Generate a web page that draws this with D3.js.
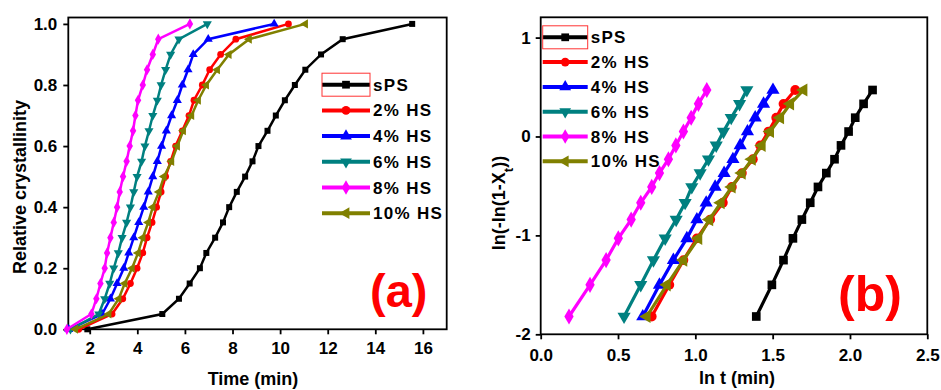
<!doctype html>
<html>
<head>
<meta charset="utf-8">
<script src="https://cdn.jsdelivr.net/npm/d3@7"></script>
<style>
  body { margin: 0; background: #fff; }
  svg text { font-family: "Liberation Sans", Arial, sans-serif; font-weight: bold; }
</style>
</head>
<body>
<div id="chart"></div>
<script>
var seriesNames = ["sPS", "2% HS", "4% HS", "6% HS", "8% HS", "10% HS"];
var seriesColors = ["#000000", "#ff0000", "#0000ff", "#008080", "#ff00ff", "#808000"];

// panel (a): relative crystallinity levels and the time (min) read for each curve
var crystLevels = [0, 0.05, 0.10, 0.15, 0.20, 0.25, 0.30, 0.35, 0.40, 0.45, 0.50,
                   0.55, 0.60, 0.65, 0.70, 0.75, 0.80, 0.85, 0.90, 0.95, 1.00];
var timeSPS  = [1.9, 5.05, 5.75, 6.2, 6.63, 6.9, 7.27, 7.6, 7.86, 8.18, 8.53, 8.84, 9.09, 9.47, 9.82, 10.2, 10.62, 11.06, 11.72, 12.63, 15.55];
var time2HS  = [1.54, 2.94, 3.39, 3.71, 3.99, 4.23, 4.41, 4.62, 4.81, 5.0, 5.19, 5.4, 5.61, 5.89, 6.17, 6.38, 6.73, 7.04, 7.5, 8.14, 10.35];
var time4HS  = [1.12, 2.52, 2.87, 3.15, 3.43, 3.64, 3.85, 4.06, 4.27, 4.46, 4.65, 4.84, 5.02, 5.22, 5.44, 5.68, 5.89, 6.13, 6.35, 6.98, 9.75];
var time6HS  = [1.19, 2.38, 2.63, 2.84, 3.01, 3.2, 3.36, 3.55, 3.71, 3.85, 3.99, 4.18, 4.32, 4.49, 4.65, 4.84, 5.0, 5.19, 5.4, 5.75, 6.94];
var time8HS  = [1.04, 2.07, 2.28, 2.45, 2.63, 2.73, 2.87, 3.01, 3.15, 3.26, 3.4, 3.55, 3.68, 3.82, 3.92, 4.03, 4.23, 4.41, 4.65, 4.88, 6.21];
var time10HS = [1.4, 2.8, 3.22, 3.47, 3.78, 4.03, 4.23, 4.46, 4.65, 4.91, 5.12, 5.44, 5.68, 5.93, 6.28, 6.56, 6.9, 7.36, 7.85, 8.7, 11.06];

// panel (b): ln(-ln(1-Xt)) levels and ln t read for each line
var lnLevels = [-1.82, -1.50, -1.25, -1.03, -0.84, -0.67, -0.51, -0.37, -0.23, -0.09, 0.05, 0.19, 0.33, 0.47];
var lnSPS  = [1.394, 1.495, 1.570, 1.631, 1.689, 1.743, 1.793, 1.847, 1.900, 1.942, 1.991, 2.034, 2.088, 2.146];
var ln2HS  = [0.718, 0.832, 0.923, 1.010, 1.096, 1.178, 1.236, 1.301, 1.372, 1.419, 1.473, 1.523, 1.570, 1.646];
var ln4HS  = [0.660, 0.768, 0.858, 0.945, 1.010, 1.070, 1.128, 1.186, 1.243, 1.290, 1.337, 1.387, 1.441, 1.502];
var ln6HS  = [0.539, 0.647, 0.729, 0.805, 0.876, 0.934, 0.977, 1.031, 1.085, 1.135, 1.182, 1.232, 1.286, 1.333];
var ln8HS  = [0.183, 0.319, 0.423, 0.502, 0.585, 0.647, 0.718, 0.768, 0.826, 0.874, 0.923, 0.973, 1.020, 1.074];
var ln10HS = [0.686, 0.816, 0.923, 1.020, 1.091, 1.165, 1.236, 1.301, 1.366, 1.430, 1.484, 1.549, 1.614, 1.700];

var ticksTime = [2, 4, 6, 8, 10, 12, 14, 16];
var ticksCryst = [0, 0.2, 0.4, 0.6, 0.8, 1.0];
var ticksLnT = [0, 0.5, 1.0, 1.5, 2.0, 2.5];
var ticksLnY = [-2, -1, 0, 1];

var w = 941, h = 390;
var svg = d3.select("#chart").append("svg").attr("width", w).attr("height", h);

var shapes = [d3.symbolSquare, d3.symbolCircle, d3.symbolTriangle, d3.symbolTriangle, d3.symbolDiamond, d3.symbolTriangle];
var turns = [0, 0, 0, 180, 0, -90];

function drawPanel(p) {
  var x = d3.scaleLinear().domain(p.xDomain).range([p.left, p.right]);
  var y = d3.scaleLinear().domain(p.yDomain).range([p.bottom, p.top]);

  var xa = svg.append("g").attr("transform", "translate(0," + p.bottom + ")")
    .call(d3.axisBottom(x).tickValues(p.xTicks).tickSize(5).tickSizeOuter(0)
      .tickPadding(p.xPad).tickFormat(p.xFormat));
  var ya = svg.append("g").attr("transform", "translate(" + p.left + ",0)")
    .call(d3.axisLeft(y).tickValues(p.yTicks).tickSize(5).tickSizeOuter(0)
      .tickPadding(p.yPad).tickFormat(p.yFormat));
  [xa, ya].forEach(function (a) {
    a.select(".domain").remove();
    a.selectAll(".tick line").attr("stroke", "#000").attr("stroke-width", 1.8);
    a.selectAll("text").attr("font-size", 17).attr("fill", "#000")
      .style("font-family", '"Liberation Sans", Arial, sans-serif').style("font-weight", "bold");
  });

  svg.append("rect").attr("x", p.left).attr("y", p.top)
    .attr("width", p.right - p.left).attr("height", p.bottom - p.top)
    .attr("fill", "none").attr("stroke", "#000").attr("stroke-width", 1.8);

  var line = d3.line().x(function (d) { return x(d[0]); }).y(function (d) { return y(d[1]); });

  p.series.forEach(function (xs, i) {
    var pts = xs.map(function (v, j) { return [v, p.levels[j]]; });
    var g = svg.append("g");
    g.append("path").datum(pts).attr("d", line)
      .attr("fill", "none").attr("stroke", seriesColors[i]).attr("stroke-width", p.lineW);
    g.selectAll("path.m").data(pts).enter().append("path").attr("class", "m")
      .attr("d", d3.symbol().type(shapes[i]).size(p.markSize))
      .attr("transform", function (d) { return "translate(" + x(d[0]) + "," + y(d[1]) + ") rotate(" + turns[i] + ")"; })
      .attr("fill", seriesColors[i]);
  });

  // legend
  seriesNames.forEach(function (name, i) {
    var ly = p.legY + i * p.legStep;
    svg.append("line").attr("x1", p.legX).attr("x2", p.legX + p.legLen)
      .attr("y1", ly).attr("y2", ly).attr("stroke", seriesColors[i]).attr("stroke-width", 4);
    svg.append("path").attr("d", d3.symbol().type(shapes[i]).size(60))
      .attr("transform", "translate(" + (p.legX + p.legLen / 2) + "," + ly + ") rotate(" + turns[i] + ")")
      .attr("fill", seriesColors[i]);
    svg.append("text").attr("x", p.legX + p.legLen + 3).attr("y", ly + 6)
      .attr("font-size", 17).attr("letter-spacing", 1.3).attr("fill", "#000").text(name);
  });
  svg.append("rect").attr("x", p.legX).attr("y", p.legY - 11.5)
    .attr("width", p.legLen).attr("height", 23)
    .attr("fill", "none").attr("stroke", "#ff3333").attr("stroke-width", 1);
}

drawPanel({
  left: 68.3, right: 446.7, top: 17.5, bottom: 329.3,
  xDomain: [1.1, 17], yDomain: [0, 1.021],
  xTicks: ticksTime, yTicks: ticksCryst,
  xFormat: d3.format("d"), yFormat: d3.format(".1f"),
  xPad: 8, yPad: 6,
  levels: crystLevels,
  series: [timeSPS, time2HS, time4HS, time6HS, time8HS, time10HS],
  lineW: 2.5, markSize: 36,
  legX: 322, legY: 84.7, legStep: 25.7, legLen: 48
});

drawPanel({
  left: 540.7, right: 927.3, top: 17.3, bottom: 334.3,
  xDomain: [0, 2.5], yDomain: [-2, 1.205],
  xTicks: ticksLnT, yTicks: ticksLnY,
  xFormat: d3.format(".1f"), yFormat: function (d) { return String(d); },
  xPad: 10, yPad: 5,
  levels: lnLevels,
  series: [lnSPS, ln2HS, ln4HS, ln6HS, ln8HS, ln10HS],
  lineW: 3.2, markSize: 75,
  legX: 542.7, legY: 37.3, legStep: 24.8, legLen: 45
});

// panel letters
svg.append("text").attr("x", 370).attr("y", 307).attr("font-size", 47).attr("fill", "#ff0000").text("(a)");
svg.append("text").attr("x", 838).attr("y", 311).attr("font-size", 50).attr("fill", "#ff0000").text("(b)");

// axis titles
svg.append("text").attr("x", 253).attr("y", 385).attr("text-anchor", "middle")
  .attr("font-size", 18).text("Time (min)");
svg.append("text").attr("x", 737).attr("y", 384).attr("text-anchor", "middle")
  .attr("font-size", 18).text("ln t (min)");
svg.append("text").attr("transform", "translate(26,187) rotate(-90)").attr("text-anchor", "middle")
  .attr("font-size", 18).text("Relative crystallinity");
var yl = svg.append("text").attr("transform", "translate(505,203) rotate(-90)").attr("text-anchor", "middle")
  .attr("font-size", 18);
yl.append("tspan").text("ln(-ln(1-X");
yl.append("tspan").attr("baseline-shift", "sub").attr("font-size", 13).text("t");
yl.append("tspan").text("))");
</script>
</body>
</html>
